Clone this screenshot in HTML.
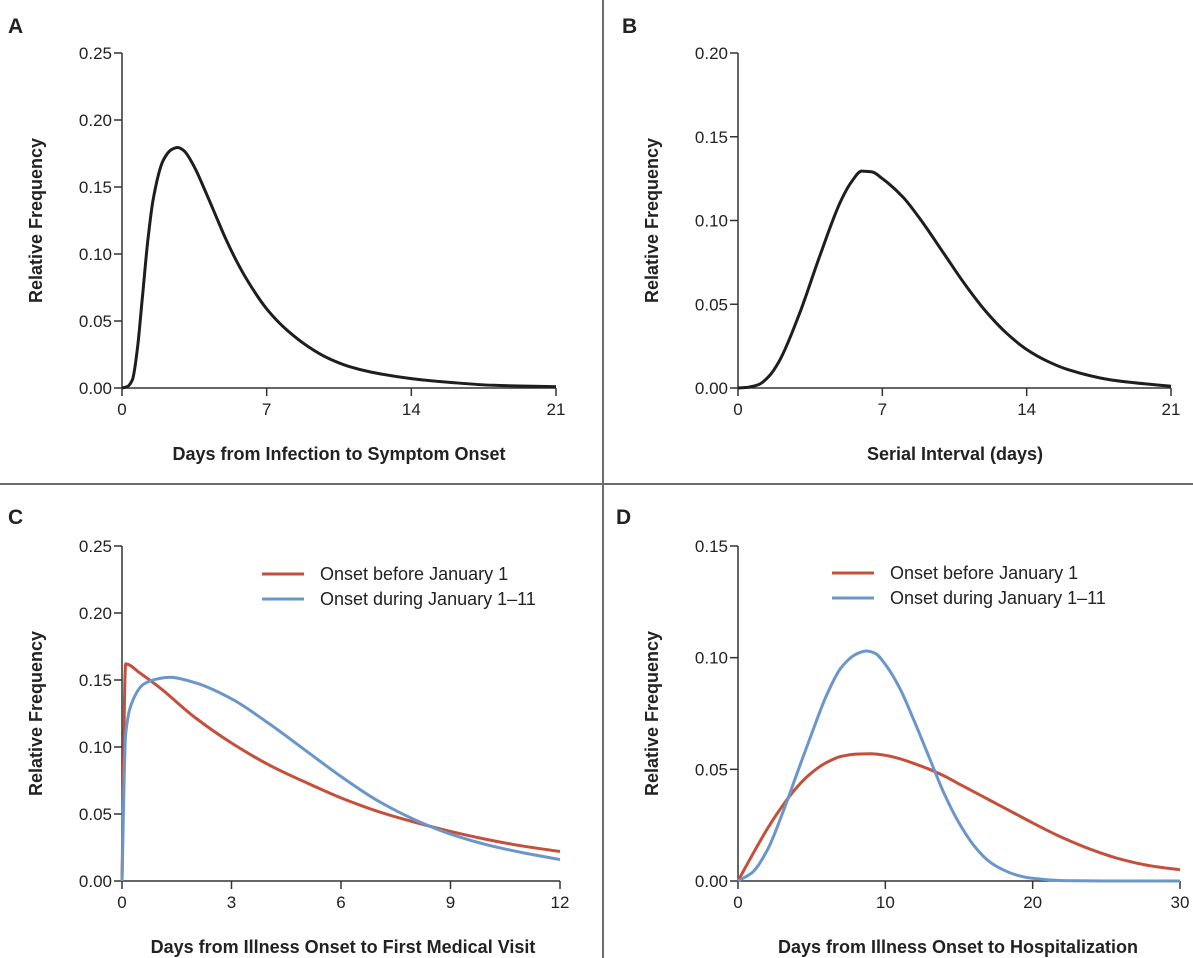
<!DOCTYPE html>
<html><head><meta charset="utf-8"><style>
html,body{margin:0;padding:0;background:#fff}
svg{display:block;font-family:"Liberation Sans",sans-serif}
.tk{font-size:17px;fill:#222}
.ttl{font-size:18px;font-weight:bold;fill:#222}
.pl{font-size:21px;font-weight:bold;fill:#222}
.lg{font-size:18px;fill:#222}
</style></head><body>
<svg id="fig" width="1193" height="958" viewBox="0 0 1193 958">
<line x1="603" y1="0" x2="603" y2="958" stroke="#6b6b6b" stroke-width="2"/>
<line x1="0" y1="484" x2="1193" y2="484" stroke="#6b6b6b" stroke-width="2"/>
</svg>
<script>
// Panel A data
const aDays=[0,0.25,0.5,0.75,1,1.25,1.5,2,2.4,2.7,3,3.5,4,4.5,5,5.5,6,7,8,9,10,11,12,14,16,18,21];
const aFreq=[0,0.001,0.006,0.03,0.07,0.11,0.14,0.17,0.178,0.1795,0.177,0.165,0.148,0.13,0.112,0.096,0.082,0.059,0.043,0.031,0.022,0.016,0.012,0.007,0.004,0.002,0.001];
const aXTicks=[0,7,14,21];
const aYTicks=["0.00","0.05","0.10","0.15","0.20","0.25"];
// Panel B data
const bDays=[0,0.5,1,1.5,2,3,4,5,5.5,6,6.5,7,8,9,10,11,12,13,14,15,16,18,21];
const bFreq=[0,0.0005,0.002,0.007,0.016,0.045,0.08,0.112,0.123,0.1295,0.129,0.125,0.114,0.098,0.08,0.062,0.046,0.033,0.023,0.016,0.011,0.005,0.001];
const bXTicks=[0,7,14,21];
const bYTicks=["0.00","0.05","0.10","0.15","0.20"];
// Panel C data
const cRedDays=[0,0.1,0.5,1,2,3,4,5,6,7,8,9,10,11,12];
const cRedFreq=[0,0.162,0.155,0.145,0.122,0.103,0.087,0.074,0.062,0.052,0.044,0.037,0.031,0.026,0.022];
const cBlueDays=[0,0.1,0.3,0.6,1,1.3,2,3,4,5,6,7,8,9,10,11,12];
const cBlueFreq=[0,0.11,0.135,0.147,0.151,0.152,0.148,0.136,0.118,0.098,0.078,0.06,0.046,0.035,0.027,0.021,0.016];
const cXTicks=[0,3,6,9,12];
const cYTicks=["0.00","0.05","0.10","0.15","0.20","0.25"];
// Panel D data
const dRedDays=[0,1,2,3,4,5,6,7,8,9,10,11,12,13,14,15,16,17,18,19,20,22,24,26,28,30];
const dRedFreq=[0,0.012,0.0235,0.0335,0.042,0.0485,0.053,0.0558,0.0568,0.057,0.0563,0.0547,0.0525,0.050,0.047,0.0435,0.040,0.0365,0.033,0.0295,0.026,0.0195,0.014,0.0097,0.0068,0.005];
const dBlueDays=[0,1,2,3,4,5,6,7,8,8.7,9.3,10,11,12,13,14,15,16,17,18,19,20,22,25,30];
const dBlueFreq=[0,0.004,0.014,0.03,0.048,0.066,0.083,0.0955,0.1015,0.103,0.102,0.097,0.086,0.071,0.055,0.039,0.026,0.016,0.009,0.005,0.0025,0.0012,0.0002,0,0];
const dXTicks=[0,10,20,30];
const dYTicks=["0.00","0.05","0.10","0.15"];

const RED="#c4503b", BLUE="#6b96c9";
const svg=document.getElementById('fig');
const NS="http://www.w3.org/2000/svg";
function mk(tag,attrs,parent){const e=document.createElementNS(NS,tag);for(const k in attrs)e.setAttribute(k,attrs[k]);(parent||svg).appendChild(e);return e;}

// monotone cubic path (no overshoot)
function monoPath(px,py){
  const n=px.length;const d=[],m=new Array(n);
  for(let i=0;i<n-1;i++)d.push((py[i+1]-py[i])/(px[i+1]-px[i]));
  m[0]=d[0];m[n-1]=d[n-2];
  for(let i=1;i<n-1;i++){
    if(d[i-1]*d[i]<=0)m[i]=0;
    else{const h0=px[i]-px[i-1],h1=px[i+1]-px[i];
      m[i]=3*(h0+h1)/((2*h1+h0)/d[i-1]+(h1+2*h0)/d[i]);}
  }
  let s='M'+px[0].toFixed(1)+','+py[0].toFixed(1);
  for(let i=0;i<n-1;i++){const h=(px[i+1]-px[i])/3;
    s+=' C'+(px[i]+h).toFixed(1)+','+(py[i]+m[i]*h).toFixed(1)+' '+(px[i+1]-h).toFixed(1)+','+(py[i+1]-m[i+1]*h).toFixed(1)+' '+px[i+1].toFixed(1)+','+py[i+1].toFixed(1);}
  return s;
}

function panel(o){
  const g=mk('g',{});
  
  
  const xs=v=>o.x0+(v-o.xmin)/(o.xmax-o.xmin)*(o.x1-o.x0);
  const ymax=parseFloat(o.yt[o.yt.length-1]);
  const ys=v=>o.y0-v/ymax*(o.y0-o.y1);
  const lab=mk('text',{x:o.lx,y:o.ly,class:'pl'},g);lab.textContent=o.id;
  
  
  const ya=mk('line',{x1:o.x0,y1:o.y0,x2:o.x0,y2:o.y1,stroke:'#333','stroke-width':1.5},g);
  
  
  const xa=mk('line',{x1:o.x0,y1:o.y0,x2:o.x1,y2:o.y0,stroke:'#333','stroke-width':1.5},g);
  
  
  o.yt.forEach(t=>{const y=ys(parseFloat(t));
    mk('line',{x1:o.x0-8,y1:y,x2:o.x0,y2:y,stroke:'#333','stroke-width':1.5},g);
    const tx=mk('text',{x:o.x0-10,y:y+6,'text-anchor':'end',class:'tk'},g);tx.textContent=t;
    
    });
  o.xt.forEach(t=>{const x=xs(t);
    mk('line',{x1:x,y1:o.y0,x2:x,y2:o.y0+8,stroke:'#333','stroke-width':1.5},g);
    const tx=mk('text',{x:x,y:o.y0+27,'text-anchor':'middle',class:'tk'},g);tx.textContent=t;
    
    });
  const yt=mk('text',{x:0,y:0,'text-anchor':'middle',class:'ttl',transform:`translate(${o.x0-80},${(o.y0+o.y1)/2}) rotate(-90)`},g);
  yt.textContent='Relative Frequency';
  
  
  const xt=mk('text',{x:o.xtc,y:o.y0+72,'text-anchor':'middle',class:'ttl'},g);
  xt.textContent=o.xtitle;
  
  
  o.series.forEach(s=>{
    const d=monoPath(s.x.map(xs),s.y.map(ys));
    const p=mk('path',{d:d,fill:'none',stroke:s.c,'stroke-width':3,'stroke-linejoin':'round'},g);
    
    
  });
  if(o.leg){
    [[RED,'Onset before January 1','legend-entry-before-jan-1'],[BLUE,'Onset during January 1–11','legend-entry-jan-1-11']].forEach((e,i)=>{
      const y=o.leg.y+i*25;
      const le=mk('g',{},g);
      
      
      mk('line',{x1:o.leg.x,y1:y,x2:o.leg.x+42,y2:y,stroke:e[0],'stroke-width':3},le);
      const t=mk('text',{x:o.leg.x+58,y:y+6,class:'lg'},le);t.textContent=e[1];
    });
  }
}
panel({id:'A',lx:8,ly:33,x0:122,x1:556,y0:388,y1:53,xmin:0,xmax:21,xt:aXTicks,yt:aYTicks,xtc:339,xtitle:'Days from Infection to Symptom Onset',
  series:[{x:aDays,y:aFreq,c:'#1e1e1e',name:'incubation-curve'}]});
panel({id:'B',lx:622,ly:33,x0:738,x1:1171,y0:388,y1:53,xmin:0,xmax:21,xt:bXTicks,yt:bYTicks,xtc:955,xtitle:'Serial Interval (days)',
  series:[{x:bDays,y:bFreq,c:'#1e1e1e',name:'serial-interval-curve'}]});
panel({id:'C',lx:8,ly:524,x0:122,x1:560,y0:881,y1:546,xmin:0,xmax:12,xt:cXTicks,yt:cYTicks,xtc:343,xtitle:'Days from Illness Onset to First Medical Visit',
  leg:{x:262,y:574},
  series:[{x:cRedDays,y:cRedFreq,c:RED,name:'curve-before-jan-1'},{x:cBlueDays,y:cBlueFreq,c:BLUE,name:'curve-jan-1-11'}]});
panel({id:'D',lx:616,ly:524,x0:738,x1:1180,y0:881,y1:546,xmin:0,xmax:30,xt:dXTicks,yt:dYTicks,xtc:958,xtitle:'Days from Illness Onset to Hospitalization',
  leg:{x:832,y:573},
  series:[{x:dRedDays,y:dRedFreq,c:RED,name:'curve-before-jan-1'},{x:dBlueDays,y:dBlueFreq,c:BLUE,name:'curve-jan-1-11'}]});
</script>
</body></html>
